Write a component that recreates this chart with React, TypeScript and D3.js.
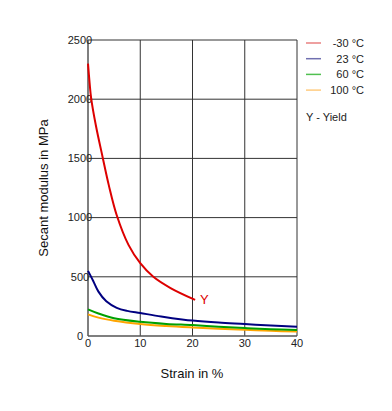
import React from 'react';
import * as d3 from 'd3';

// Strain (%) and secant modulus (MPa)
const strainM30 = [0, 0.3, 0.6, 1.5, 2.8, 4, 5.5, 7.75, 10, 12.5, 15.8, 20.5];
const modulusM30 = [2300, 2140, 2010, 1780, 1510, 1270, 1020, 770, 615, 500, 405, 305];

const strain23 = [0, 1, 2, 3.5, 5.5, 7.5, 10, 14, 18, 20, 25, 30, 35, 40];
const modulus23 = [550, 465, 375, 293, 238, 212, 194, 165, 140, 130, 113, 101, 88, 78];

const strain60 = [0, 2, 5, 10, 15, 20, 25, 30, 35, 40];
const modulus60 = [225, 190, 150, 120, 102, 92, 78, 67, 58, 51];

const strain100 = [0, 2, 5, 10, 15, 20, 25, 30, 35, 40];
const modulus100 = [183, 155, 129, 101, 84, 72, 62, 53, 44, 37];

const legendLabels = ['-30 °C', '23 °C', '60 °C', '100 °C'];
const seriesColors = ['#dd0000', '#000080', '#00a000', '#ffa500'];
const legendColors = ['#e88080', '#7070b0', '#50c050', '#ffcc80'];

const xTicks = [0, 10, 20, 30, 40];
const yTicks = [0, 500, 1000, 1500, 2000, 2500];

const font = 'Arial, "Liberation Sans", sans-serif';

export default function App() {
  const width = 392;
  const height = 411;
  const left = 88;
  const right = 297;
  const top = 40;
  const bottom = 336;

  const x = d3.scaleLinear().domain([0, 40]).range([left, right]);
  const y = d3.scaleLinear().domain([0, 2500]).range([bottom, top]);

  const line = d3.line<[number, number]>()
    .x(d => x(d[0]))
    .y(d => y(d[1]))
    .curve(d3.curveCatmullRom.alpha(0.5));

  const series = [
    { xs: strainM30, ys: modulusM30 },
    { xs: strain23, ys: modulus23 },
    { xs: strain60, ys: modulus60 },
    { xs: strain100, ys: modulus100 },
  ];

  const gridColor = '#333';
  const lastRed: [number, number] = [strainM30[strainM30.length - 1], modulusM30[modulusM30.length - 1]];

  return (
    <svg
      width={width}
      height={height}
      style={{ position: 'absolute', left: 0, top: 0, background: '#fff' }}
      fontFamily={font}
    >
      {/* grid */}
      {yTicks.slice(1).map(t => (
        <line key={'h' + t} x1={x(0)} x2={x(40)} y1={y(t)} y2={y(t)} stroke={gridColor} strokeWidth={1} />
      ))}
      {xTicks.slice(1).map(t => (
        <line key={'v' + t} x1={x(t)} x2={x(t)} y1={y(0)} y2={y(2500)} stroke={gridColor} strokeWidth={1} />
      ))}
      {/* axes */}
      <line x1={x(0)} x2={x(0)} y1={y(0)} y2={y(2500)} stroke="#555" strokeWidth={1.5} />
      <line x1={x(0)} x2={x(40)} y1={y(0)} y2={y(0)} stroke="#555" strokeWidth={1.5} />

      {/* tick labels */}
      {yTicks.map(t => (
        <text key={'yl' + t} x={80} y={y(t)} dy="0.35em" textAnchor="middle" fontSize={11} fill="#222">
          {t}
        </text>
      ))}
      {xTicks.map(t => (
        <text key={'xl' + t} x={x(t)} y={347} textAnchor="middle" fontSize={11} fill="#222">
          {t}
        </text>
      ))}

      {/* curves */}
      {series.map((s, i) => (
        <path
          key={'s' + i}
          d={line(s.xs.map((v, j) => [v, s.ys[j]] as [number, number])) || ''}
          fill="none"
          stroke={seriesColors[i]}
          strokeWidth={2}
        />
      )).reverse()}

      <text x={x(lastRed[0]) + 5} y={y(lastRed[1])} dy="0.35em" fontSize={13} fill="#dd0000">
        Y
      </text>

      {/* axis titles */}
      <text x={192} y={378} textAnchor="middle" fontSize={13} fill="#111">
        Strain in %
      </text>
      <text
        transform={`translate(48,${(top + bottom) / 2}) rotate(-90)`}
        textAnchor="middle"
        fontSize={13}
        fill="#111"
      >
        Secant modulus in MPa
      </text>

      {/* legend */}
      {legendLabels.map((lab, i) => (
        <g key={'lg' + i}>
          <line x1={306} x2={321} y1={43 + i * 15.7} y2={43 + i * 15.7} stroke={legendColors[i]} strokeWidth={1.5} />
          <text x={364} y={43 + i * 15.7} dy="0.35em" textAnchor="end" fontSize={11} fill="#222">
            {lab}
          </text>
        </g>
      ))}
      <text x={306} y={117} dy="0.35em" fontSize={11} fill="#222">
        Y - Yield
      </text>
    </svg>
  );
}
